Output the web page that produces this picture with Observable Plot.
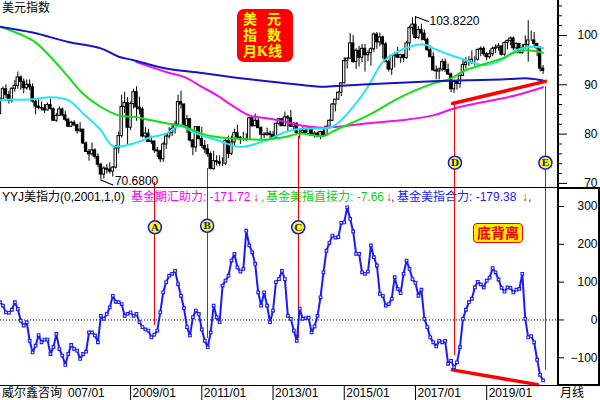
<!DOCTYPE html>
<html><head><meta charset="utf-8">
<script src="https://cdn.jsdelivr.net/npm/d3@7"></script>
<script src="https://cdn.jsdelivr.net/npm/@observablehq/plot@0.6"></script>
<style>
body{margin:0;background:#fff;}
#wrap{position:relative;width:600px;height:400px;overflow:hidden;background:#fff;font-family:"Liberation Sans",Arial,"Noto Sans CJK SC",sans-serif;color:#000;}
.abs{position:absolute;white-space:nowrap;}
.boxrow{position:absolute;white-space:pre;font-family:"Liberation Serif","Noto Sans CJK SC",serif;font-weight:bold;font-size:14px;line-height:15px;color:#ffff00;z-index:2;}
</style></head><body>
<div id="wrap">
  <div class="abs" id="legend" style="left:0;top:190px;width:560px;height:15px;font-size:12px;line-height:14px;z-index:0;">
    <span class="abs" style="left:2px;top:0">YYJ美指力(0,2001,1,0)</span>
    <span class="abs" style="left:131px;top:0;color:#ff00ff">基金期汇助力: -171.72</span>
    <span class="abs" style="left:253px;top:0;color:#ff0000">↓</span>
    <span class="abs" style="left:261px;top:0;color:#10d010">,</span>
    <span class="abs" style="left:266px;top:0;color:#10d010">基金美指直接力: -7.66</span>
    <span class="abs" style="left:386px;top:0;color:#ff0000">↓</span>
    <span class="abs" style="left:391px;top:0;color:#1a1aff">,</span>
    <span class="abs" style="left:397px;top:0;color:#1a1aff">基金美指合力: -179.38</span>
    <span class="abs" style="left:522px;top:0;color:#ff0000">↓</span>
    <span class="abs" style="left:528px;top:0;color:#1a1aff">,</span>
  </div>
  <div class="abs" id="topPanel" style="left:0;top:0;z-index:1;"></div>
  <div class="abs" id="botPanel" style="left:0;top:188px;z-index:1;"></div>

  <div class="abs" style="left:2px;top:2px;font-size:12px;line-height:13px;z-index:2;">美元指数</div>
  <div class="abs" style="left:237px;top:9px;width:56px;height:53px;background:#ff0000;border-radius:7px;z-index:2;"></div>
  <div class="boxrow" style="left:243px;top:12px;">美</div>
  <div class="boxrow" style="left:267px;top:12px;">元</div>
  <div class="boxrow" style="left:243px;top:28px;">指</div>
  <div class="boxrow" style="left:267px;top:28px;">数</div>
  <div class="boxrow" style="left:243px;top:44px;">月K线</div>
  <div class="abs" style="left:473px;top:223px;width:48px;height:18px;background:#ffee00;border:1px solid #ff0000;border-radius:4px;color:#ee0000;font-weight:bold;font-size:14px;line-height:18px;text-align:center;z-index:2;">底背离</div>

  <div class="abs" style="left:557px;top:0;width:2px;height:188px;background:#000;z-index:3;"></div>
  <div class="abs" style="left:0;top:187px;width:558px;height:1px;background:#000;z-index:3;"></div>
  <div class="abs" style="left:557px;top:187px;width:39px;height:195px;border:2px solid #000;z-index:3;"></div>
  <div class="abs" style="left:0;top:385px;width:558px;height:1px;background:#000;z-index:3;"></div>
  <div class="abs" style="left:0;top:386px;width:65px;height:14px;background:#fff;font-size:12px;line-height:14px;padding-left:2px;z-index:3;">威尔鑫咨询</div>
  <div class="abs" style="left:560px;top:386px;font-size:12px;line-height:14px;z-index:3;">月线</div>
</div>
<script>
// Monthly US Dollar Index candles, 2005/05 .. 2020/08 (index 0 = 2005/05)
const open = [
84.1,87.0,89.1,87.9,86.8,89.2,89.8,91.5,90.6,89.3,
90.0,89.5,86.6,85.6,85.3,85.2,84.8,85.9,85.1,82.7,
83.7,85.0,83.8,82.9,81.5,82.3,81.8,80.6,80.9,78.1,
76.4,75.9,76.7,75.4,73.8,71.8,73.0,72.8,72.4,73.2,
77.1,79.6,85.5,86.3,81.3,86.1,88.5,85.4,85.0,79.5,
80.1,78.4,78.5,76.7,76.5,74.9,77.9,79.5,80.2,81.0,
81.9,86.5,86.0,81.6,83.0,78.7,77.3,81.4,79.0,77.6,
76.9,75.9,72.9,74.5,74.3,74.0,74.0,78.6,76.0,78.3,
80.2,79.3,78.9,79.0,78.8,83.2,81.6,82.7,81.2,79.9,
79.8,80.1,79.8,79.2,82.1,83.0,81.6,83.4,83.2,81.5,
82.1,80.2,80.2,80.7,80.0,81.2,79.7,80.1,79.5,80.4,
79.8,81.5,82.7,86.0,87.0,88.4,90.3,94.8,95.3,98.4,
94.6,96.9,95.5,97.3,96.0,96.4,97.2,100.2,98.6,99.6,
98.2,94.6,93.1,95.9,96.1,95.5,96.0,95.4,98.4,101.5,
102.2,99.5,101.1,100.4,99.1,97.0,95.6,92.9,92.7,93.1,
94.6,93.0,92.1,89.1,90.6,90.2,91.8,94.0,94.5,94.5,
95.1,95.1,97.1,97.3,96.2,95.6,96.2,97.3,97.5,97.8,
96.1,98.5,98.9,99.4,97.4,98.3,96.4,97.4,98.1,99.0,
99.0,98.3,97.4,93.3];
const high = [
87.4,89.6,90.0,88.7,89.4,90.9,92.6,91.8,91.2,91.0,
91.0,90.2,86.9,87.2,86.5,86.0,86.3,87.1,85.3,84.2,
85.5,85.3,84.6,83.2,82.6,82.7,82.0,82.3,81.0,78.4,
76.9,78.2,77.0,76.0,74.1,73.4,73.8,74.2,73.4,77.7,
80.4,87.9,88.5,87.4,86.5,89.1,89.6,87.5,85.4,81.3,
81.0,79.6,78.6,77.3,76.7,78.3,79.9,81.3,82.1,82.6,
87.9,88.7,86.1,83.8,83.1,78.9,81.4,81.5,81.4,78.7,
77.9,76.4,76.5,75.6,75.6,75.2,78.9,79.6,79.6,81.0,
81.8,79.5,80.4,80.1,83.4,83.6,84.1,83.2,81.5,80.3,
81.2,80.6,80.5,82.2,83.2,83.2,84.5,83.8,84.8,82.4,
82.3,81.0,81.5,81.0,81.5,81.3,80.5,80.4,80.6,80.9,
81.6,82.9,86.2,87.0,88.6,90.3,95.5,95.5,100.4,100.0,
97.3,97.8,98.2,98.2,96.9,97.5,100.5,100.6,100.5,99.9,
98.6,95.0,95.9,96.6,97.6,96.2,96.2,98.8,101.9,103.6,
103.822,101.8,102.3,101.1,99.5,97.9,96.5,93.8,93.4,95.2,
95.2,94.2,92.4,90.9,90.9,91.9,95.0,95.5,95.7,96.9,
95.7,97.2,97.7,97.7,96.5,97.0,97.7,98.1,98.4,97.8,
98.7,99.1,99.7,99.7,98.5,98.3,98.2,99.9,103.0,100.9,
100.6,98.4,97.8,93.9];
const low = [
83.9,86.6,87.2,86.1,86.3,88.5,89.1,88.9,88.2,88.9,
88.8,86.3,83.9,84.9,84.7,84.2,84.7,84.9,82.6,82.4,
83.6,83.5,82.5,81.4,81.3,81.5,80.0,80.3,77.9,76.3,
74.5,75.5,74.9,73.2,70.68,70.9,71.9,71.9,71.3,72.9,
76.1,79.2,84.2,77.7,80.7,85.1,82.6,83.9,79.2,78.9,
78.3,77.9,76.1,75.2,74.2,74.3,76.9,79.0,79.5,80.0,
81.6,85.1,81.4,80.1,78.4,75.6,76.3,78.8,77.1,76.1,
75.3,72.8,72.7,73.5,73.4,73.4,73.6,75.0,75.7,77.6,
78.9,77.9,78.5,78.5,78.7,81.4,81.5,81.1,78.6,79.1,
79.6,79.0,78.9,79.0,81.6,81.6,81.5,80.5,81.5,80.8,
79.9,79.0,80.0,79.8,79.7,79.7,79.2,79.3,78.9,79.6,
79.7,81.3,82.6,84.5,86.8,87.6,90.2,93.2,95.2,94.4,
93.1,93.6,94.5,92.6,94.7,93.8,96.6,97.2,97.7,95.2,
94.6,92.6,91.9,93.4,95.3,94.4,94.5,95.2,96.9,100.1,
99.2,99.2,98.9,98.8,96.8,95.5,92.8,91.0,91.0,92.6,
92.5,91.9,88.4,88.25,88.9,89.3,91.7,93.2,93.7,94.1,
93.8,94.8,95.7,95.8,94.9,95.2,95.7,96.3,96.8,95.8,
95.8,97.1,97.9,96.9,97.0,96.4,96.2,97.3,94.6,98.8,
97.4,95.7,92.6,92.1];
const close = [
87.0,89.1,87.9,86.8,89.2,89.8,91.5,90.6,89.3,90.0,
89.5,86.6,85.6,85.3,85.2,84.8,85.9,85.1,82.7,83.7,
85.0,83.8,82.9,81.5,82.3,81.8,80.6,80.9,78.1,76.4,
75.9,76.7,75.4,73.8,71.8,73.0,72.8,72.4,73.2,77.1,
79.6,85.5,86.3,81.3,86.1,88.5,85.4,85.0,79.5,80.1,
78.4,78.5,76.7,76.5,74.9,77.9,79.5,80.2,81.0,81.9,
86.5,86.0,81.6,83.0,78.7,77.3,81.4,79.0,77.6,76.9,
75.9,72.9,74.5,74.3,74.0,74.0,78.6,76.0,78.3,80.2,
79.3,78.9,79.0,78.8,83.2,81.6,82.7,81.2,79.9,79.8,
80.1,79.8,79.2,82.1,83.0,81.6,83.4,83.2,81.5,82.1,
80.2,80.2,80.7,80.0,81.2,79.7,80.1,79.5,80.4,79.8,
81.5,82.7,86.0,87.0,88.4,90.3,94.8,95.3,98.4,94.6,
96.9,95.5,97.3,96.0,96.4,97.2,100.2,98.6,99.6,98.2,
94.6,93.1,95.9,96.1,95.5,96.0,95.4,98.4,101.5,102.2,
99.5,101.1,100.4,99.1,97.0,95.6,92.9,92.7,93.1,94.6,
93.0,92.1,89.1,90.6,90.2,91.8,94.0,94.5,94.5,95.1,
95.1,97.1,97.3,96.2,95.6,96.2,97.3,97.5,97.8,96.1,
98.5,98.9,99.4,97.4,98.3,96.4,97.4,98.1,99.0,99.0,
98.3,97.4,93.3,92.8];

// Moving averages (month index, value)
const maCyanIdx = [0,4,10,17,23,28,34,38,45,51,56,61,65,73,81,90,96,101,112,118,124,129,135,143,146,152,157,163,169,174,180,183];
const maCyanVal = [86.9,87.0,87.0,87.5,86.9,84.2,80.8,77.6,78.1,79.4,80.1,81.8,80.4,78.8,77.4,78.8,80.4,81.1,81.5,84.8,89.6,94.6,97.0,98.2,97.4,96.0,95.0,94.0,95.0,97.0,97.7,97.4];
const maGreenIdx = [0,11,17,23,28,34,40,45,51,56,62,68,73,79,90,96,101,109,112,124,135,146,152,157,169,174,178,183];
const maGreenVal = [101.8,99.0,95.7,91.6,88.2,85.5,83.8,83.5,82.8,82.2,81.5,80.1,79.4,79.1,78.9,79.4,80.1,79.6,80.5,83.8,87.5,90.3,91.3,93.0,95.3,96.7,97.0,96.5];
const maMagentaIdx = [46,56,62,68,73,79,84,90,96,101,109,124,135,146,153,163,174,183];
const maMagentaVal = [94.6,92.6,91.6,89.6,87.9,85.5,83.8,83.2,82.5,81.8,81.3,82.2,82.8,83.8,85.2,86.5,87.9,89.5];
const maBlueIdx = [0,11,23,34,40,45,56,68,79,90,101,109,112,124,135,146,158,169,178,183];
const maBlueVal = [101.8,100.6,98.7,97.4,95.7,95.0,93.3,92.4,91.5,90.7,90.0,89.6,89.7,90.1,90.4,90.7,90.9,91.1,91.3,90.9];

// YYJ indicator (monthly)
const yyj = [
47,38,20,19,27,47,29,-2,-15,-6,
-55,-86,-68,-40,-59,-52,-52,-90,-72,-37,
-77,-94,-119,-90,-66,-77,-81,-103,-90,-84,
-33,-33,-41,-59,11,3,16,33,64,48,
47,42,11,16,20,11,16,-6,-19,-25,
-28,-46,-39,-28,20,73,100,117,122,130,
95,64,31,-19,-41,7,25,16,-25,-55,
-72,-33,38,7,-6,91,104,117,157,175,
139,128,135,236,197,179,148,73,38,73,
38,-6,25,100,108,130,108,11,3,-28,
-55,30,3,5,6,-33,-17,11,60,126,
183,204,223,218,219,257,258,298,267,234,
175,175,126,122,128,197,166,144,69,64,
38,42,56,113,82,71,122,157,135,108,
98,64,80,3,-19,-46,-59,-70,-55,-59,
-55,-116,-108,-125,-112,-72,3,27,47,56,
86,101,94,86,104,112,137,126,107,85,
75,86,85,73,80,82,122,3,-46,-43,
-59,-105,-145,-160];

// Axis ticks
const tickIdx = [20,44,68,92,116,140,164];
const tickLabels = ["2007/01","2009/01","2011/01","2013/01","2015/01","2017/01","2019/01"];
const yTicksTop = [70,80,90,100];
const yMinorTop = [72,74,76,78,82,84,86,88,92,94,96,98,102,104,106];
const yTicksBottom = [-100,0,100,200,300];

// Signal markers A..E
const markLetters = ["A","B","C","D","E"];
const markIdx = [52.2,69.8,100.5,153.3,183.8];
const markTop = [70.2,73.1,79.5,85.8,89.7];
const markBottom = [-15,-50,-50,-94,-134];
const markPanel = ["bottom","bottom","bottom","top","top"];
const markCircleVal = [245,249,245,74.2,74.2];

// Divergence lines
const divTopIdx = [152.5,183.8], divTopVal = [86.2,90.7];
const divBotIdx = [152.4,181.2], divBotVal = [-132,-171];

const xDomain = [0.17, 188.2];
const topDomain = [68.97, 107.1];
const botDomain = [-174.6, 347.6];
const fontStack = '"Liberation Sans", Arial, "Noto Sans CJK SC", sans-serif';

const idx = d3.range(close.length);
const upIdx = idx.filter(i => close[i] >= open[i]);
const downIdx = idx.filter(i => close[i] < open[i]);
const pairs = (a, b) => a.map((v, k) => ({i: v, v: b[k]}));
const marks = markLetters.map((L, k) => ({L, i: markIdx[k], t: markTop[k], b: markBottom[k], p: markPanel[k], c: markCircleVal[k]}));
const lineShape = {draw(ctx, l) { ctx.moveTo(0, 0); ctx.lineTo(0, -l); }};
const peakI = d3.maxIndex(high), lowI = d3.minIndex(low);

const topChart = Plot.plot({
  width: 600, height: 188,
  marginLeft: 0, marginRight: 42, marginTop: 0, marginBottom: 0,
  style: {background: "transparent", fontFamily: fontStack, fontSize: "12px", color: "black", overflow: "visible"},
  x: {domain: xDomain, axis: null},
  y: {domain: topDomain},
  marks: [
    Plot.axisY({anchor: "right", ticks: yMinorTop, tickSize: 3, fill: "none", label: null, stroke: "black"}),
    Plot.axisY({anchor: "right", ticks: yTicksTop, tickSize: 8, tickPadding: 31, textAnchor: "end", label: null, stroke: "black", fill: "black", fontSize: 12}),
    Plot.ruleX(idx, {x: i => i, y1: i => low[i], y2: i => high[i], stroke: "black", strokeWidth: 1}),
    Plot.rect(upIdx, {x1: i => i - 0.4, x2: i => i + 0.4, y1: i => open[i], y2: i => close[i], fill: "white", stroke: "black", strokeWidth: 1}),
    Plot.rect(downIdx, {x1: i => i - 0.4, x2: i => i + 0.4, y1: i => open[i], y2: i => close[i], fill: "black", stroke: "black", strokeWidth: 1}),
    Plot.line(pairs(maMagentaIdx, maMagentaVal), {x: "i", y: "v", stroke: "#f010f0", strokeWidth: 2, curve: "catmull-rom"}),
    Plot.line(pairs(maCyanIdx, maCyanVal), {x: "i", y: "v", stroke: "#22e6f6", strokeWidth: 2, curve: "catmull-rom"}),
    Plot.line(pairs(maGreenIdx, maGreenVal), {x: "i", y: "v", stroke: "#12e012", strokeWidth: 2, curve: "catmull-rom"}),
    Plot.line(pairs(maBlueIdx, maBlueVal), {x: "i", y: "v", stroke: "#1414c8", strokeWidth: 2, curve: "catmull-rom"}),
    Plot.ruleX(marks, {x: "i", y1: "t", y2: () => topDomain[0], stroke: "#ff0000", strokeWidth: 1, shapeRendering: "crispEdges"}),
    Plot.line(pairs(divTopIdx, divTopVal), {x: "i", y: "v", stroke: "#ff0000", strokeWidth: 3.5}),
    Plot.dot(marks.filter(d => d.p === "top"), {x: "i", y: "c", r: 6.5, fill: "#ffff00", stroke: "#1010ff", strokeWidth: 1.5}),
    Plot.text(marks.filter(d => d.p === "top"), {x: "i", y: "c", text: "L", fill: "#10108a", fontWeight: "bold", fontFamily: "'Liberation Serif', serif", fontSize: 11}),
    Plot.vector([peakI], {x: i => i, y: i => high[i], length: 14, rotate: 110, anchor: "start", shape: lineShape, stroke: "black", strokeWidth: 1}),
    Plot.text([peakI], {x: i => i, y: i => high[i], text: i => high[i].toFixed(4), dx: 14, dy: 4, textAnchor: "start", fill: "black", fontSize: 12}),
    Plot.vector([lowI], {x: i => i, y: i => low[i], length: 13, rotate: 112, anchor: "start", shape: lineShape, stroke: "black", strokeWidth: 1}),
    Plot.text([lowI], {x: i => i, y: i => low[i], text: i => low[i].toFixed(4), dx: 14, dy: 1.5, textAnchor: "start", fill: "black", fontSize: 12})
  ]
});
document.getElementById("topPanel").append(topChart);

const botChart = Plot.plot({
  width: 600, height: 212,
  marginLeft: 0, marginRight: 42, marginTop: 0, marginBottom: 14.5,
  style: {background: "transparent", fontFamily: fontStack, fontSize: "12px", color: "black", overflow: "visible"},
  x: {domain: xDomain},
  y: {domain: botDomain},
  marks: [
    Plot.ruleY([0], {stroke: "black", strokeDasharray: "1,2"}),
    Plot.axisY({anchor: "right", ticks: yTicksBottom, tickSize: 5, tickPadding: 34, textAnchor: "end", label: null, stroke: "black", fill: "black", fontSize: 12}),
    Plot.axisX({anchor: "bottom", ticks: tickIdx, tickSize: 15, fill: "none", label: null, stroke: "black"}),
    Plot.axisX({anchor: "bottom", ticks: tickIdx, tickSize: 0, tickPadding: 2, dx: 2, textAnchor: "start", label: null, fill: "black", fontSize: 12,
      tickFormat: d => tickLabels[tickIdx.indexOf(d)]}),
    Plot.ruleX(marks, {x: "i", y1: "b", y2: () => botDomain[1], stroke: "#ff0000", strokeWidth: 1, shapeRendering: "crispEdges"}),
    Plot.line(pairs(divBotIdx, divBotVal), {x: "i", y: "v", stroke: "#ff0000", strokeWidth: 3.5}),
    Plot.line(idx, {x: i => i, y: i => yyj[i], stroke: "#1a1aff", strokeWidth: 2}),
    Plot.dot(idx, {x: i => i, y: i => yyj[i], symbol: "square", r: 1.5, fill: "white", stroke: "#1a1aff", strokeWidth: 1.1}),
    Plot.dot(marks.filter(d => d.p === "bottom"), {x: "i", y: "c", r: 6.5, fill: "#ffff00", stroke: "#1010ff", strokeWidth: 1.5}),
    Plot.text(marks.filter(d => d.p === "bottom"), {x: "i", y: "c", text: "L", fill: "#10108a", fontWeight: "bold", fontFamily: "'Liberation Serif', serif", fontSize: 11})
  ]
});
document.getElementById("botPanel").append(botChart);
</script>
</body></html>
